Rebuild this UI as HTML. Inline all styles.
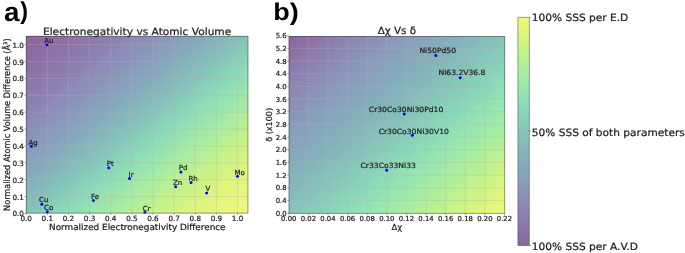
<!DOCTYPE html><html><head><meta charset="utf-8"><title>fig</title><style>html,body{margin:0;padding:0;background:#fff}svg{display:block;will-change:transform}text{text-rendering:geometricPrecision;font-family:"DejaVu Sans","Liberation Sans",sans-serif;fill:#222;stroke:#222;stroke-width:0.22px}.b{font-family:"Liberation Sans",sans-serif;font-weight:bold;fill:#000;stroke:none}</style></head><body>
<svg width="685" height="253" viewBox="0 0 685 253">
<defs><linearGradient id="gl" x1="0" y1="0" x2="1" y2="1"><stop offset="0.0000" stop-color="#8d669e"/><stop offset="0.0350" stop-color="#8c689e"/><stop offset="0.1190" stop-color="#8d73a8"/><stop offset="0.2140" stop-color="#8d82b2"/><stop offset="0.2486" stop-color="#8d89b8"/><stop offset="0.3100" stop-color="#8b96b9"/><stop offset="0.4040" stop-color="#86abbc"/><stop offset="0.4990" stop-color="#85c3ba"/><stop offset="0.5950" stop-color="#8eddb9"/><stop offset="0.6900" stop-color="#a7eca3"/><stop offset="0.7710" stop-color="#c3f18a"/><stop offset="0.8800" stop-color="#e0f57c"/><stop offset="0.9640" stop-color="#ecf67d"/><stop offset="1.0000" stop-color="#f0f57d"/></linearGradient><linearGradient id="gr" x1="0" y1="0" x2="1" y2="1"><stop offset="0.0000" stop-color="#8c679d"/><stop offset="0.0200" stop-color="#8c689e"/><stop offset="0.1240" stop-color="#8d7fb0"/><stop offset="0.2405" stop-color="#8b96b9"/><stop offset="0.3210" stop-color="#87a5bb"/><stop offset="0.4020" stop-color="#83b2ba"/><stop offset="0.4830" stop-color="#85c1ba"/><stop offset="0.5990" stop-color="#89d8b9"/><stop offset="0.6800" stop-color="#96e5b2"/><stop offset="0.7600" stop-color="#a8eda0"/><stop offset="0.8420" stop-color="#c1f28c"/><stop offset="0.9230" stop-color="#dbf57c"/><stop offset="0.9700" stop-color="#e9f67a"/><stop offset="1.0000" stop-color="#f0f67c"/></linearGradient><linearGradient id="c" x1="0" y1="1" x2="0" y2="0"><stop offset="0.0000" stop-color="#8c679d"/><stop offset="0.0200" stop-color="#8c689e"/><stop offset="0.1240" stop-color="#8d7fb0"/><stop offset="0.2405" stop-color="#8b96b9"/><stop offset="0.3210" stop-color="#87a5bb"/><stop offset="0.4020" stop-color="#83b2ba"/><stop offset="0.4830" stop-color="#85c1ba"/><stop offset="0.5990" stop-color="#89d8b9"/><stop offset="0.6800" stop-color="#96e5b2"/><stop offset="0.7600" stop-color="#a8eda0"/><stop offset="0.8420" stop-color="#c1f28c"/><stop offset="0.9230" stop-color="#dbf57c"/><stop offset="0.9700" stop-color="#e9f67a"/><stop offset="1.0000" stop-color="#f0f67c"/></linearGradient></defs>
<rect width="685" height="253" fill="#fff"/>
<rect x="25.90" y="35.90" width="222.40" height="177.60" fill="url(#gl)"/>
<line x1="26.20" y1="213.10" x2="26.20" y2="214.90" stroke="#333" stroke-opacity="0.7" stroke-width="0.6"/>
<text transform="translate(26.20 220.80)" font-size="7.2" text-anchor="middle">0.0</text>
<line x1="47.33" y1="36.30" x2="47.33" y2="213.10" stroke="#b0b0b0" stroke-opacity="0.62" stroke-width="0.5"/>
<line x1="47.33" y1="213.10" x2="47.33" y2="214.90" stroke="#333" stroke-opacity="0.7" stroke-width="0.6"/>
<text transform="translate(47.33 220.80)" font-size="7.2" text-anchor="middle">0.1</text>
<line x1="68.46" y1="36.30" x2="68.46" y2="213.10" stroke="#b0b0b0" stroke-opacity="0.62" stroke-width="0.5"/>
<line x1="68.46" y1="213.10" x2="68.46" y2="214.90" stroke="#333" stroke-opacity="0.7" stroke-width="0.6"/>
<text transform="translate(68.46 220.80)" font-size="7.2" text-anchor="middle">0.2</text>
<line x1="89.59" y1="36.30" x2="89.59" y2="213.10" stroke="#b0b0b0" stroke-opacity="0.62" stroke-width="0.5"/>
<line x1="89.59" y1="213.10" x2="89.59" y2="214.90" stroke="#333" stroke-opacity="0.7" stroke-width="0.6"/>
<text transform="translate(89.59 220.80)" font-size="7.2" text-anchor="middle">0.3</text>
<line x1="110.72" y1="36.30" x2="110.72" y2="213.10" stroke="#b0b0b0" stroke-opacity="0.62" stroke-width="0.5"/>
<line x1="110.72" y1="213.10" x2="110.72" y2="214.90" stroke="#333" stroke-opacity="0.7" stroke-width="0.6"/>
<text transform="translate(110.72 220.80)" font-size="7.2" text-anchor="middle">0.4</text>
<line x1="131.85" y1="36.30" x2="131.85" y2="213.10" stroke="#b0b0b0" stroke-opacity="0.62" stroke-width="0.5"/>
<line x1="131.85" y1="213.10" x2="131.85" y2="214.90" stroke="#333" stroke-opacity="0.7" stroke-width="0.6"/>
<text transform="translate(131.85 220.80)" font-size="7.2" text-anchor="middle">0.5</text>
<line x1="152.98" y1="36.30" x2="152.98" y2="213.10" stroke="#b0b0b0" stroke-opacity="0.62" stroke-width="0.5"/>
<line x1="152.98" y1="213.10" x2="152.98" y2="214.90" stroke="#333" stroke-opacity="0.7" stroke-width="0.6"/>
<text transform="translate(152.98 220.80)" font-size="7.2" text-anchor="middle">0.6</text>
<line x1="174.11" y1="36.30" x2="174.11" y2="213.10" stroke="#b0b0b0" stroke-opacity="0.62" stroke-width="0.5"/>
<line x1="174.11" y1="213.10" x2="174.11" y2="214.90" stroke="#333" stroke-opacity="0.7" stroke-width="0.6"/>
<text transform="translate(174.11 220.80)" font-size="7.2" text-anchor="middle">0.7</text>
<line x1="195.24" y1="36.30" x2="195.24" y2="213.10" stroke="#b0b0b0" stroke-opacity="0.62" stroke-width="0.5"/>
<line x1="195.24" y1="213.10" x2="195.24" y2="214.90" stroke="#333" stroke-opacity="0.7" stroke-width="0.6"/>
<text transform="translate(195.24 220.80)" font-size="7.2" text-anchor="middle">0.8</text>
<line x1="216.37" y1="36.30" x2="216.37" y2="213.10" stroke="#b0b0b0" stroke-opacity="0.62" stroke-width="0.5"/>
<line x1="216.37" y1="213.10" x2="216.37" y2="214.90" stroke="#333" stroke-opacity="0.7" stroke-width="0.6"/>
<text transform="translate(216.37 220.80)" font-size="7.2" text-anchor="middle">0.9</text>
<line x1="237.50" y1="36.30" x2="237.50" y2="213.10" stroke="#b0b0b0" stroke-opacity="0.62" stroke-width="0.5"/>
<line x1="237.50" y1="213.10" x2="237.50" y2="214.90" stroke="#333" stroke-opacity="0.7" stroke-width="0.6"/>
<text transform="translate(237.50 220.80)" font-size="7.2" text-anchor="middle">1.0</text>
<line x1="24.50" y1="213.40" x2="26.30" y2="213.40" stroke="#333" stroke-opacity="0.7" stroke-width="0.6"/>
<text transform="translate(23.90 216.45)" font-size="7.2" text-anchor="end">0.0</text>
<line x1="26.30" y1="196.52" x2="247.90" y2="196.52" stroke="#b0b0b0" stroke-opacity="0.62" stroke-width="0.5"/>
<line x1="24.50" y1="196.52" x2="26.30" y2="196.52" stroke="#333" stroke-opacity="0.7" stroke-width="0.6"/>
<text transform="translate(23.90 199.57)" font-size="7.2" text-anchor="end">0.1</text>
<line x1="26.30" y1="179.64" x2="247.90" y2="179.64" stroke="#b0b0b0" stroke-opacity="0.62" stroke-width="0.5"/>
<line x1="24.50" y1="179.64" x2="26.30" y2="179.64" stroke="#333" stroke-opacity="0.7" stroke-width="0.6"/>
<text transform="translate(23.90 182.69)" font-size="7.2" text-anchor="end">0.2</text>
<line x1="26.30" y1="162.76" x2="247.90" y2="162.76" stroke="#b0b0b0" stroke-opacity="0.62" stroke-width="0.5"/>
<line x1="24.50" y1="162.76" x2="26.30" y2="162.76" stroke="#333" stroke-opacity="0.7" stroke-width="0.6"/>
<text transform="translate(23.90 165.81)" font-size="7.2" text-anchor="end">0.3</text>
<line x1="26.30" y1="145.88" x2="247.90" y2="145.88" stroke="#b0b0b0" stroke-opacity="0.62" stroke-width="0.5"/>
<line x1="24.50" y1="145.88" x2="26.30" y2="145.88" stroke="#333" stroke-opacity="0.7" stroke-width="0.6"/>
<text transform="translate(23.90 148.93)" font-size="7.2" text-anchor="end">0.4</text>
<line x1="26.30" y1="129.00" x2="247.90" y2="129.00" stroke="#b0b0b0" stroke-opacity="0.62" stroke-width="0.5"/>
<line x1="24.50" y1="129.00" x2="26.30" y2="129.00" stroke="#333" stroke-opacity="0.7" stroke-width="0.6"/>
<text transform="translate(23.90 132.05)" font-size="7.2" text-anchor="end">0.5</text>
<line x1="26.30" y1="112.12" x2="247.90" y2="112.12" stroke="#b0b0b0" stroke-opacity="0.62" stroke-width="0.5"/>
<line x1="24.50" y1="112.12" x2="26.30" y2="112.12" stroke="#333" stroke-opacity="0.7" stroke-width="0.6"/>
<text transform="translate(23.90 115.17)" font-size="7.2" text-anchor="end">0.6</text>
<line x1="26.30" y1="95.24" x2="247.90" y2="95.24" stroke="#b0b0b0" stroke-opacity="0.62" stroke-width="0.5"/>
<line x1="24.50" y1="95.24" x2="26.30" y2="95.24" stroke="#333" stroke-opacity="0.7" stroke-width="0.6"/>
<text transform="translate(23.90 98.29)" font-size="7.2" text-anchor="end">0.7</text>
<line x1="26.30" y1="78.36" x2="247.90" y2="78.36" stroke="#b0b0b0" stroke-opacity="0.62" stroke-width="0.5"/>
<line x1="24.50" y1="78.36" x2="26.30" y2="78.36" stroke="#333" stroke-opacity="0.7" stroke-width="0.6"/>
<text transform="translate(23.90 81.41)" font-size="7.2" text-anchor="end">0.8</text>
<line x1="26.30" y1="61.48" x2="247.90" y2="61.48" stroke="#b0b0b0" stroke-opacity="0.62" stroke-width="0.5"/>
<line x1="24.50" y1="61.48" x2="26.30" y2="61.48" stroke="#333" stroke-opacity="0.7" stroke-width="0.6"/>
<text transform="translate(23.90 64.53)" font-size="7.2" text-anchor="end">0.9</text>
<line x1="26.30" y1="44.60" x2="247.90" y2="44.60" stroke="#b0b0b0" stroke-opacity="0.62" stroke-width="0.5"/>
<line x1="24.50" y1="44.60" x2="26.30" y2="44.60" stroke="#333" stroke-opacity="0.7" stroke-width="0.6"/>
<text transform="translate(23.90 47.65)" font-size="7.2" text-anchor="end">1.0</text>
<rect x="26.30" y="36.30" width="221.60" height="176.80" fill="none" stroke="#3c3c3c" stroke-opacity="0.6" stroke-width="0.8"/>
<rect x="288.70" y="36.00" width="216.40" height="177.70" fill="url(#gr)"/>
<line x1="288.75" y1="213.30" x2="288.75" y2="215.10" stroke="#333" stroke-opacity="0.7" stroke-width="0.6"/>
<text transform="translate(288.75 221.20)" font-size="6.9" text-anchor="middle">0.00</text>
<line x1="308.36" y1="36.40" x2="308.36" y2="213.30" stroke="#b0b0b0" stroke-opacity="0.62" stroke-width="0.5"/>
<line x1="308.36" y1="213.30" x2="308.36" y2="215.10" stroke="#333" stroke-opacity="0.7" stroke-width="0.6"/>
<text transform="translate(308.36 221.20)" font-size="6.9" text-anchor="middle">0.02</text>
<line x1="327.97" y1="36.40" x2="327.97" y2="213.30" stroke="#b0b0b0" stroke-opacity="0.62" stroke-width="0.5"/>
<line x1="327.97" y1="213.30" x2="327.97" y2="215.10" stroke="#333" stroke-opacity="0.7" stroke-width="0.6"/>
<text transform="translate(327.97 221.20)" font-size="6.9" text-anchor="middle">0.04</text>
<line x1="347.58" y1="36.40" x2="347.58" y2="213.30" stroke="#b0b0b0" stroke-opacity="0.62" stroke-width="0.5"/>
<line x1="347.58" y1="213.30" x2="347.58" y2="215.10" stroke="#333" stroke-opacity="0.7" stroke-width="0.6"/>
<text transform="translate(347.58 221.20)" font-size="6.9" text-anchor="middle">0.06</text>
<line x1="367.19" y1="36.40" x2="367.19" y2="213.30" stroke="#b0b0b0" stroke-opacity="0.62" stroke-width="0.5"/>
<line x1="367.19" y1="213.30" x2="367.19" y2="215.10" stroke="#333" stroke-opacity="0.7" stroke-width="0.6"/>
<text transform="translate(367.19 221.20)" font-size="6.9" text-anchor="middle">0.08</text>
<line x1="386.80" y1="36.40" x2="386.80" y2="213.30" stroke="#b0b0b0" stroke-opacity="0.62" stroke-width="0.5"/>
<line x1="386.80" y1="213.30" x2="386.80" y2="215.10" stroke="#333" stroke-opacity="0.7" stroke-width="0.6"/>
<text transform="translate(386.80 221.20)" font-size="6.9" text-anchor="middle">0.10</text>
<line x1="406.41" y1="36.40" x2="406.41" y2="213.30" stroke="#b0b0b0" stroke-opacity="0.62" stroke-width="0.5"/>
<line x1="406.41" y1="213.30" x2="406.41" y2="215.10" stroke="#333" stroke-opacity="0.7" stroke-width="0.6"/>
<text transform="translate(406.41 221.20)" font-size="6.9" text-anchor="middle">0.12</text>
<line x1="426.02" y1="36.40" x2="426.02" y2="213.30" stroke="#b0b0b0" stroke-opacity="0.62" stroke-width="0.5"/>
<line x1="426.02" y1="213.30" x2="426.02" y2="215.10" stroke="#333" stroke-opacity="0.7" stroke-width="0.6"/>
<text transform="translate(426.02 221.20)" font-size="6.9" text-anchor="middle">0.14</text>
<line x1="445.63" y1="36.40" x2="445.63" y2="213.30" stroke="#b0b0b0" stroke-opacity="0.62" stroke-width="0.5"/>
<line x1="445.63" y1="213.30" x2="445.63" y2="215.10" stroke="#333" stroke-opacity="0.7" stroke-width="0.6"/>
<text transform="translate(445.63 221.20)" font-size="6.9" text-anchor="middle">0.16</text>
<line x1="465.24" y1="36.40" x2="465.24" y2="213.30" stroke="#b0b0b0" stroke-opacity="0.62" stroke-width="0.5"/>
<line x1="465.24" y1="213.30" x2="465.24" y2="215.10" stroke="#333" stroke-opacity="0.7" stroke-width="0.6"/>
<text transform="translate(465.24 221.20)" font-size="6.9" text-anchor="middle">0.18</text>
<line x1="484.85" y1="36.40" x2="484.85" y2="213.30" stroke="#b0b0b0" stroke-opacity="0.62" stroke-width="0.5"/>
<line x1="484.85" y1="213.30" x2="484.85" y2="215.10" stroke="#333" stroke-opacity="0.7" stroke-width="0.6"/>
<text transform="translate(484.85 221.20)" font-size="6.9" text-anchor="middle">0.20</text>
<line x1="504.46" y1="213.30" x2="504.46" y2="215.10" stroke="#333" stroke-opacity="0.7" stroke-width="0.6"/>
<text transform="translate(504.46 221.20)" font-size="6.9" text-anchor="middle">0.22</text>
<line x1="287.30" y1="213.20" x2="289.10" y2="213.20" stroke="#333" stroke-opacity="0.7" stroke-width="0.6"/>
<text transform="translate(286.70 215.72)" font-size="6.9" text-anchor="end">0.0</text>
<line x1="289.10" y1="200.52" x2="504.70" y2="200.52" stroke="#b0b0b0" stroke-opacity="0.62" stroke-width="0.5"/>
<line x1="287.30" y1="200.52" x2="289.10" y2="200.52" stroke="#333" stroke-opacity="0.7" stroke-width="0.6"/>
<text transform="translate(286.70 203.04)" font-size="6.9" text-anchor="end">0.4</text>
<line x1="289.10" y1="187.83" x2="504.70" y2="187.83" stroke="#b0b0b0" stroke-opacity="0.62" stroke-width="0.5"/>
<line x1="287.30" y1="187.83" x2="289.10" y2="187.83" stroke="#333" stroke-opacity="0.7" stroke-width="0.6"/>
<text transform="translate(286.70 190.35)" font-size="6.9" text-anchor="end">0.8</text>
<line x1="289.10" y1="175.15" x2="504.70" y2="175.15" stroke="#b0b0b0" stroke-opacity="0.62" stroke-width="0.5"/>
<line x1="287.30" y1="175.15" x2="289.10" y2="175.15" stroke="#333" stroke-opacity="0.7" stroke-width="0.6"/>
<text transform="translate(286.70 177.67)" font-size="6.9" text-anchor="end">1.2</text>
<line x1="289.10" y1="162.46" x2="504.70" y2="162.46" stroke="#b0b0b0" stroke-opacity="0.62" stroke-width="0.5"/>
<line x1="287.30" y1="162.46" x2="289.10" y2="162.46" stroke="#333" stroke-opacity="0.7" stroke-width="0.6"/>
<text transform="translate(286.70 164.98)" font-size="6.9" text-anchor="end">1.6</text>
<line x1="289.10" y1="149.78" x2="504.70" y2="149.78" stroke="#b0b0b0" stroke-opacity="0.62" stroke-width="0.5"/>
<line x1="287.30" y1="149.78" x2="289.10" y2="149.78" stroke="#333" stroke-opacity="0.7" stroke-width="0.6"/>
<text transform="translate(286.70 152.30)" font-size="6.9" text-anchor="end">2.0</text>
<line x1="289.10" y1="137.10" x2="504.70" y2="137.10" stroke="#b0b0b0" stroke-opacity="0.62" stroke-width="0.5"/>
<line x1="287.30" y1="137.10" x2="289.10" y2="137.10" stroke="#333" stroke-opacity="0.7" stroke-width="0.6"/>
<text transform="translate(286.70 139.62)" font-size="6.9" text-anchor="end">2.4</text>
<line x1="289.10" y1="124.41" x2="504.70" y2="124.41" stroke="#b0b0b0" stroke-opacity="0.62" stroke-width="0.5"/>
<line x1="287.30" y1="124.41" x2="289.10" y2="124.41" stroke="#333" stroke-opacity="0.7" stroke-width="0.6"/>
<text transform="translate(286.70 126.93)" font-size="6.9" text-anchor="end">2.8</text>
<line x1="289.10" y1="111.73" x2="504.70" y2="111.73" stroke="#b0b0b0" stroke-opacity="0.62" stroke-width="0.5"/>
<line x1="287.30" y1="111.73" x2="289.10" y2="111.73" stroke="#333" stroke-opacity="0.7" stroke-width="0.6"/>
<text transform="translate(286.70 114.25)" font-size="6.9" text-anchor="end">3.2</text>
<line x1="289.10" y1="99.04" x2="504.70" y2="99.04" stroke="#b0b0b0" stroke-opacity="0.62" stroke-width="0.5"/>
<line x1="287.30" y1="99.04" x2="289.10" y2="99.04" stroke="#333" stroke-opacity="0.7" stroke-width="0.6"/>
<text transform="translate(286.70 101.56)" font-size="6.9" text-anchor="end">3.6</text>
<line x1="289.10" y1="86.36" x2="504.70" y2="86.36" stroke="#b0b0b0" stroke-opacity="0.62" stroke-width="0.5"/>
<line x1="287.30" y1="86.36" x2="289.10" y2="86.36" stroke="#333" stroke-opacity="0.7" stroke-width="0.6"/>
<text transform="translate(286.70 88.88)" font-size="6.9" text-anchor="end">4.0</text>
<line x1="289.10" y1="73.68" x2="504.70" y2="73.68" stroke="#b0b0b0" stroke-opacity="0.62" stroke-width="0.5"/>
<line x1="287.30" y1="73.68" x2="289.10" y2="73.68" stroke="#333" stroke-opacity="0.7" stroke-width="0.6"/>
<text transform="translate(286.70 76.20)" font-size="6.9" text-anchor="end">4.4</text>
<line x1="289.10" y1="60.99" x2="504.70" y2="60.99" stroke="#b0b0b0" stroke-opacity="0.62" stroke-width="0.5"/>
<line x1="287.30" y1="60.99" x2="289.10" y2="60.99" stroke="#333" stroke-opacity="0.7" stroke-width="0.6"/>
<text transform="translate(286.70 63.51)" font-size="6.9" text-anchor="end">4.8</text>
<line x1="289.10" y1="48.31" x2="504.70" y2="48.31" stroke="#b0b0b0" stroke-opacity="0.62" stroke-width="0.5"/>
<line x1="287.30" y1="48.31" x2="289.10" y2="48.31" stroke="#333" stroke-opacity="0.7" stroke-width="0.6"/>
<text transform="translate(286.70 50.83)" font-size="6.9" text-anchor="end">5.2</text>
<line x1="287.30" y1="35.62" x2="289.10" y2="35.62" stroke="#333" stroke-opacity="0.7" stroke-width="0.6"/>
<text transform="translate(286.70 38.14)" font-size="6.9" text-anchor="end">5.6</text>
<rect x="289.10" y="36.40" width="215.60" height="176.90" fill="none" stroke="#3c3c3c" stroke-opacity="0.6" stroke-width="0.8"/>
<clipPath id="cl"><rect x="26.30" y="36.30" width="221.60" height="177.10"/></clipPath>
<g clip-path="url(#cl)">
<circle cx="46.95" cy="44.85" r="1.5" fill="#0000ff"/>
<circle cx="31.35" cy="146.15" r="1.5" fill="#0000ff"/>
<circle cx="108.75" cy="167.85" r="1.5" fill="#0000ff"/>
<circle cx="129.55" cy="178.55" r="1.5" fill="#0000ff"/>
<circle cx="41.85" cy="204.35" r="1.5" fill="#0000ff"/>
<circle cx="47.25" cy="211.85" r="1.5" fill="#0000ff"/>
<circle cx="93.45" cy="200.45" r="1.5" fill="#0000ff"/>
<circle cx="180.95" cy="172.05" r="1.5" fill="#0000ff"/>
<circle cx="191.05" cy="182.55" r="1.5" fill="#0000ff"/>
<circle cx="175.65" cy="186.85" r="1.5" fill="#0000ff"/>
<circle cx="206.65" cy="192.95" r="1.5" fill="#0000ff"/>
<circle cx="237.55" cy="176.35" r="1.5" fill="#0000ff"/>
<circle cx="144.85" cy="212.45" r="1.5" fill="#0000ff"/>
</g>
<text transform="translate(44.30 42.70)" font-size="7.0">Au</text>
<text transform="translate(28.50 144.80)" font-size="7.0">Ag</text>
<text transform="translate(106.80 165.90)" font-size="7.0">Pt</text>
<text transform="translate(128.60 176.80)" font-size="7.0">Ir</text>
<text transform="translate(39.00 202.40)" font-size="7.0">Cu</text>
<text transform="translate(44.10 210.10)" font-size="7.0">Co</text>
<text transform="translate(91.10 198.50)" font-size="7.0">Fe</text>
<text transform="translate(178.70 170.10)" font-size="7.0">Pd</text>
<text transform="translate(188.50 180.60)" font-size="7.0">Rh</text>
<text transform="translate(172.90 184.90)" font-size="7.0">Zn</text>
<text transform="translate(205.50 191.10)" font-size="7.0">V</text>
<text transform="translate(234.40 174.70)" font-size="7.0">Mo</text>
<text transform="translate(142.70 211.00)" font-size="7.0">Cr</text>
<circle cx="435.80" cy="55.40" r="1.5" fill="#0000ff"/>
<text transform="translate(437.70 53.45) scale(1.060 1)" font-size="7.2" text-anchor="middle">Ni50Pd50</text>
<circle cx="460.20" cy="77.70" r="1.5" fill="#0000ff"/>
<text transform="translate(462.00 75.25) scale(1.060 1)" font-size="7.2" text-anchor="middle">Ni63.2V36.8</text>
<circle cx="404.30" cy="113.95" r="1.5" fill="#0000ff"/>
<text transform="translate(406.05 112.25) scale(1.060 1)" font-size="7.2" text-anchor="middle">Cr30Co30Ni30Pd10</text>
<circle cx="412.30" cy="135.30" r="1.5" fill="#0000ff"/>
<text transform="translate(413.75 133.65) scale(1.060 1)" font-size="7.2" text-anchor="middle">Cr30Co30Ni30V10</text>
<circle cx="386.70" cy="170.35" r="1.5" fill="#0000ff"/>
<text transform="translate(388.20 168.45) scale(1.060 1)" font-size="7.2" text-anchor="middle">Cr33Co33Ni33</text>
<text transform="translate(137.10 34.50) scale(1.061 1)" font-size="10.0" text-anchor="middle">Electronegativity vs Atomic Volume</text>
<text transform="translate(137.30 230.30) scale(1.041 1)" font-size="8.5" text-anchor="middle">Normalized Electronegativity Difference</text>
<text transform="translate(10.00 124.70) scale(1.080 1) rotate(-90)" font-size="8.17" text-anchor="middle">Normalized Atomic Volume Difference (Å³)</text>
<text transform="translate(396.90 33.70) scale(1.020 1)" font-size="10.1" text-anchor="middle">Δχ Vs δ</text>
<text transform="translate(396.90 229.90)" font-size="8.4" text-anchor="middle">Δχ</text>
<text transform="translate(272.40 124.85) scale(1.030 1) rotate(-90)" font-size="8.05" text-anchor="middle">δ (x100)</text>
<text class="b" transform="translate(4.00 20.85) scale(1.050 1)" font-size="26.5">a</text>
<text class="b" transform="translate(20.30 19.25) scale(0.950 1)" font-size="24.5">)</text>
<text class="b" transform="translate(273.30 20.40) scale(1.110 1)" font-size="24.3">b)</text>
<rect x="517.90" y="17.30" width="11.40" height="228.20" fill="url(#c)" stroke="#3c3c3c" stroke-opacity="0.6" stroke-width="0.8"/>
<line x1="529.30" y1="17.30" x2="530.80" y2="17.30" stroke="#333" stroke-opacity="0.7" stroke-width="0.6"/>
<text transform="translate(531.80 21.10) scale(1.060 1)" font-size="10.0">100% SSS per E.D</text>
<line x1="529.30" y1="131.10" x2="530.80" y2="131.10" stroke="#333" stroke-opacity="0.7" stroke-width="0.6"/>
<text transform="translate(531.80 135.60) scale(1.060 1)" font-size="10.0">50% SSS of both parameters</text>
<line x1="529.30" y1="245.50" x2="530.80" y2="245.50" stroke="#333" stroke-opacity="0.7" stroke-width="0.6"/>
<text transform="translate(531.80 249.90) scale(1.060 1)" font-size="10.0">100% SSS per A.V.D</text>
</svg></body></html>
